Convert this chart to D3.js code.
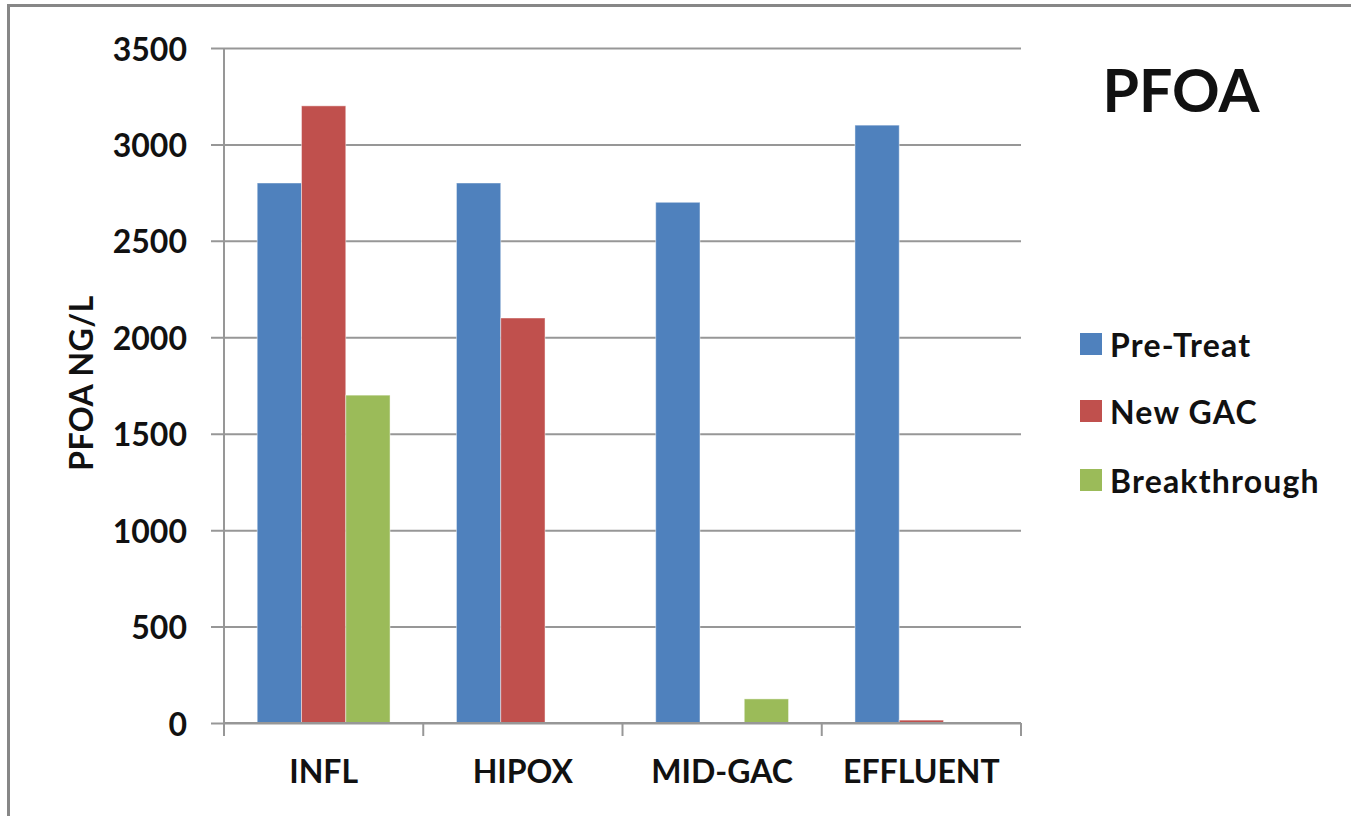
<!DOCTYPE html>
<html>
<head>
<meta charset="utf-8">
<script src="https://cdn.jsdelivr.net/npm/d3@7"></script>
<style>
  html, body { margin: 0; padding: 0; background: #fff; }
  svg { display: block; }
  text { font-family: Lato, "Open Sans", sans-serif; font-weight: 700; fill: #111; }
</style>
</head>
<body>
<svg id="chart" width="1351" height="816"></svg>
<script>
// PFOA concentration by sampling point
const categories = ["INFL", "HIPOX", "MID-GAC", "EFFLUENT"];
const seriesNames = ["Pre-Treat", "New GAC", "Breakthrough"];
const preTreat = [2800, 2800, 2700, 3100];
const newGAC = [3200, 2100, 0, 15];
const breakthrough = [1700, 0, 125, 0];
const yTicks = [0, 500, 1000, 1500, 2000, 2500, 3000, 3500];
const colors = ["#4F81BD", "#C0504D", "#9BBB59"];
const titleText = "PFOA";
const yTitle = "PFOA NG/L";

const seriesValues = [preTreat, newGAC, breakthrough];

const svg = d3.select("#chart");
const W = 1351, H = 816;
const plot = { left: 224, right: 1021, top: 48, bottom: 723 };

svg.append("rect").attr("width", W).attr("height", H).attr("fill", "#fff");

// frame (top and left edges)
svg.append("line").attr("x1", 8.5).attr("x2", W).attr("y1", 5.5).attr("y2", 5.5)
  .attr("stroke", "#878787").attr("stroke-width", 3);
svg.append("line").attr("x1", 8.5).attr("x2", 8.5).attr("y1", 4).attr("y2", H)
  .attr("stroke", "#878787").attr("stroke-width", 3);

const y = d3.scaleLinear().domain([0, 3500]).range([plot.bottom, plot.top]);
const x0 = d3.scaleBand().domain(categories).range([plot.left, plot.right]).padding(0);
const x1 = d3.scaleBand().domain(seriesNames).range([0, x0.bandwidth()])
  .paddingInner(0).paddingOuter(0.75);

// gridlines with outward tick marks
const yAxis = d3.axisLeft(y).tickValues(yTicks)
  .tickSize(-(plot.right - plot.left)).tickSizeOuter(0).tickFormat("");
const gy = svg.append("g").attr("transform", `translate(${plot.left},0)`).call(yAxis);
gy.select(".domain").remove();
gy.selectAll(".tick line")
  .attr("x1", -13).attr("x2", plot.right - plot.left)
  .attr("stroke", "#979797").attr("stroke-width", 2);

// y tick labels
svg.append("g").selectAll("text").data(yTicks).join("text")
  .attr("x", 187).attr("y", d => y(d))
  .attr("text-anchor", "end").attr("dominant-baseline", "central")
  .attr("font-size", 32)
  .text(d => d);

// bars
const groups = svg.append("g").selectAll("g").data(categories).join("g")
  .attr("transform", d => `translate(${x0(d)},0)`);
groups.selectAll("rect")
  .data((c, i) => seriesNames.map((s, j) => ({ s, j, v: seriesValues[j][i] })))
  .join("rect")
  .filter(d => d.v > 0)
  .attr("x", d => x1(d.s))
  .attr("width", x1.bandwidth())
  .attr("y", d => y(d.v))
  .attr("height", d => y(0) - y(d.v))
  .attr("fill", d => colors[d.j])
  .attr("stroke", "rgba(255,255,255,0.45)")
  .attr("stroke-width", 1);

// y axis line
svg.append("line").attr("x1", plot.left).attr("x2", plot.left)
  .attr("y1", plot.top).attr("y2", plot.bottom)
  .attr("stroke", "#979797").attr("stroke-width", 2);

// x axis with category boundary ticks
const bounds = categories.map(c => x0(c)).concat([plot.right]);
svg.append("line").attr("x1", plot.left).attr("x2", plot.right)
  .attr("y1", plot.bottom).attr("y2", plot.bottom)
  .attr("stroke", "#979797").attr("stroke-width", 2);
svg.append("g").selectAll("line").data(bounds).join("line")
  .attr("x1", d => d).attr("x2", d => d)
  .attr("y1", plot.bottom).attr("y2", plot.bottom + 13)
  .attr("stroke", "#979797").attr("stroke-width", 2);

// category labels
svg.append("g").selectAll("text").data(categories).join("text")
  .attr("x", d => x0(d) + x0.bandwidth() / 2)
  .attr("y", 783)
  .attr("text-anchor", "middle")
  .attr("font-size", 32)
  .text(d => d);

// y axis title
svg.append("text")
  .attr("transform", "translate(93,383) rotate(-90)")
  .attr("text-anchor", "middle")
  .attr("font-size", 32)
  .attr("letter-spacing", 0.5)
  .text(yTitle);

// chart title
svg.append("text")
  .attr("x", 1181).attr("y", 112)
  .attr("text-anchor", "middle")
  .attr("font-size", 59)
  .text(titleText);

// legend
const legendY = [344, 411, 480];
const lg = svg.append("g").selectAll("g").data(seriesNames).join("g")
  .attr("transform", (d, i) => `translate(1080,${legendY[i]})`);
lg.append("rect").attr("x", 0).attr("y", -11).attr("width", 22).attr("height", 22)
  .attr("fill", (d, i) => colors[i]);
lg.append("text").attr("x", 30).attr("y", 0)
  .attr("dominant-baseline", "central")
  .attr("font-size", 32)
  .attr("letter-spacing", 1.2)
  .text(d => d);
</script>
</body>
</html>
